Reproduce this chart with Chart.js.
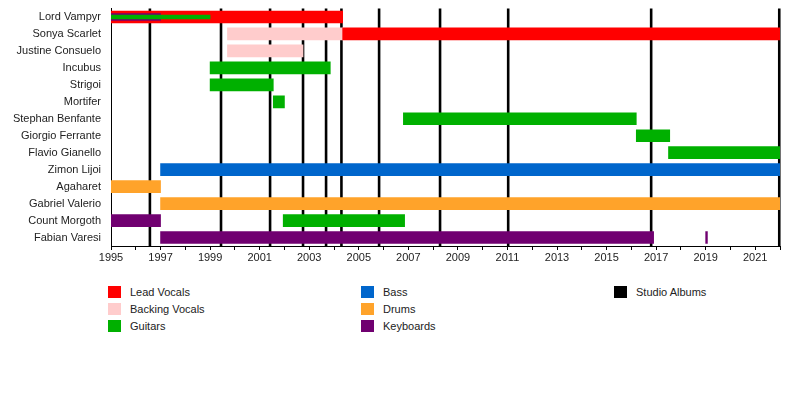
<!DOCTYPE html>
<html>
<head>
<meta charset="utf-8">
<script src="https://cdn.jsdelivr.net/npm/chart.js@4.4.1/dist/chart.umd.min.js"></script>
<style>
  body { margin: 0; background: #fff; font-family: "Liberation Sans", Arial, sans-serif; }
  #wrap { position: relative; width: 800px; height: 394px; }
  #chart { position: absolute; left: 0; top: 0; }
  .lg { position: absolute; font-size: 11px; color: #222; line-height: 12px; }
  .lg span { position: absolute; left: 0; top: 0; width: 13px; height: 12px; }
  .lg b { position: absolute; left: 22px; top: 0; font-weight: normal; white-space: nowrap; }
</style>
</head>
<body>
<div id="wrap">
  <canvas id="chart" width="800" height="270"></canvas>
  <div id="legend"></div>
</div>
<script>
const members = ["Lord Vampyr", "Sonya Scarlet", "Justine Consuelo", "Incubus", "Strigoi", "Mortifer",
  "Stephan Benfante", "Giorgio Ferrante", "Flavio Gianello", "Zimon Lijoi", "Agaharet",
  "Gabriel Valerio", "Count Morgoth", "Fabian Varesi"];

// [member, start, end]
const leadVocals = [["Lord Vampyr", 1995, 2004.35], ["Sonya Scarlet", 2004.35, 2022]];
const backingVocals = [["Sonya Scarlet", 1999.7, 2004.35], ["Justine Consuelo", 1999.7, 2002.75]];
const guitars = [["Incubus", 1999, 2003.85], ["Strigoi", 1999, 2001.55], ["Mortifer", 2001.55, 2002],
  ["Stephan Benfante", 2006.8, 2016.2], ["Giorgio Ferrante", 2016.2, 2017.55],
  ["Flavio Gianello", 2017.5, 2022], ["Count Morgoth", 2001.95, 2006.85]];
const bass = [["Zimon Lijoi", 1997, 2022]];
const drums = [["Agaharet", 1995, 1997], ["Gabriel Valerio", 1997, 2022]];
const keyboards = [["Count Morgoth", 1995, 1997], ["Fabian Varesi", 1997, 2016.9], ["Fabian Varesi", 2019, 2019.07]];
// secondary roles drawn as thin bars
const thinGuitars = [["Lord Vampyr", 1995, 1999]];
const thinKeyboards = [["Lord Vampyr", 1995, 1997]];

const albums = [1996.57, 1999.44, 2001.42, 2002.75, 2003.68, 2004.3, 2005.82, 2008.28, 2011.03, 2016.8, 2021.97];

const colors = {
  lead: "#ff0000", backing: "#ffcccc", guitars: "#00b000",
  bass: "#0066cc", drums: "#ffa32a", keys: "#700070", albums: "#000000"
};

const legendItems = [
  ["Lead Vocals", colors.lead, 108, 286], ["Backing Vocals", colors.backing, 108, 303], ["Guitars", colors.guitars, 108, 320],
  ["Bass", colors.bass, 361, 286], ["Drums", colors.drums, 361, 303], ["Keyboards", colors.keys, 361, 320],
  ["Studio Albums", colors.albums, 614, 286]
];

function toBars(list) {
  return list.map(r => ({ y: r[0], x: [r[1], r[2]] }));
}

function ds(label, list, color, thick, order) {
  return {
    label: label,
    data: toBars(list),
    backgroundColor: color,
    borderWidth: 0,
    barThickness: thick,
    grouped: false,
    order: order
  };
}

// album lines behind the bars
const albumLines = {
  id: "albumLines",
  beforeDatasetsDraw(chart) {
    const { ctx, chartArea, scales } = chart;
    ctx.save();
    ctx.strokeStyle = colors.albums;
    ctx.lineWidth = 2.6;
    albums.forEach(a => {
      const x = scales.x.getPixelForValue(a);
      ctx.beginPath();
      ctx.moveTo(x, chartArea.top);
      ctx.lineTo(x, chartArea.bottom);
      ctx.stroke();
    });
    ctx.restore();
  }
};

new Chart(document.getElementById("chart"), {
  type: "bar",
  data: {
    labels: members,
    datasets: [
      ds("Guitars (secondary)", thinGuitars, colors.guitars, 4, 0),
      ds("Keyboards (secondary)", thinKeyboards, colors.keys, 7, 1),
      ds("Lead Vocals", leadVocals, colors.lead, 12, 2),
      ds("Backing Vocals", backingVocals, colors.backing, 12, 2),
      ds("Guitars", guitars, colors.guitars, 12, 2),
      ds("Bass", bass, colors.bass, 12, 2),
      ds("Drums", drums, colors.drums, 12, 2),
      ds("Keyboards", keyboards, colors.keys, 12, 2)
    ]
  },
  options: {
    indexAxis: "y",
    responsive: false,
    animation: false,
    layout: { padding: { top: 8.5, right: 20, left: 0, bottom: 0 } },
    plugins: { legend: { display: false }, tooltip: { enabled: false } },
    scales: {
      x: {
        type: "linear",
        min: 1995,
        max: 2022,
        afterFit(scale) { scale.height = 24; },
        ticks: {
          stepSize: 1,
          autoSkip: false,
          maxRotation: 0,
          padding: 1,
          color: "#222",
          font: { family: "Liberation Sans", size: 11 },
          callback: v => (v % 2 === 1 ? String(v) : "")
        },
        grid: { drawOnChartArea: false, drawTicks: true, tickLength: 4, color: "#000" },
        border: { display: true, color: "#000", width: 1 }
      },
      y: {
        afterFit(scale) {
          scale.width = 111;
          scale.paddingTop = 0;
          scale.paddingBottom = 0;
        },
        ticks: {
          padding: 10,
          color: "#222",
          font: { family: "Liberation Sans", size: 11 }
        },
        grid: { display: false, drawTicks: false },
        border: { display: true, color: "#000", width: 1 }
      }
    }
  },
  plugins: [albumLines]
});

const legend = document.getElementById("legend");
legendItems.forEach(it => {
  const d = document.createElement("div");
  d.className = "lg";
  d.style.left = it[2] + "px";
  d.style.top = it[3] + "px";
  d.innerHTML = '<span style="background:' + it[1] + '"></span><b>' + it[0] + "</b>";
  legend.appendChild(d);
});
</script>
</body>
</html>
